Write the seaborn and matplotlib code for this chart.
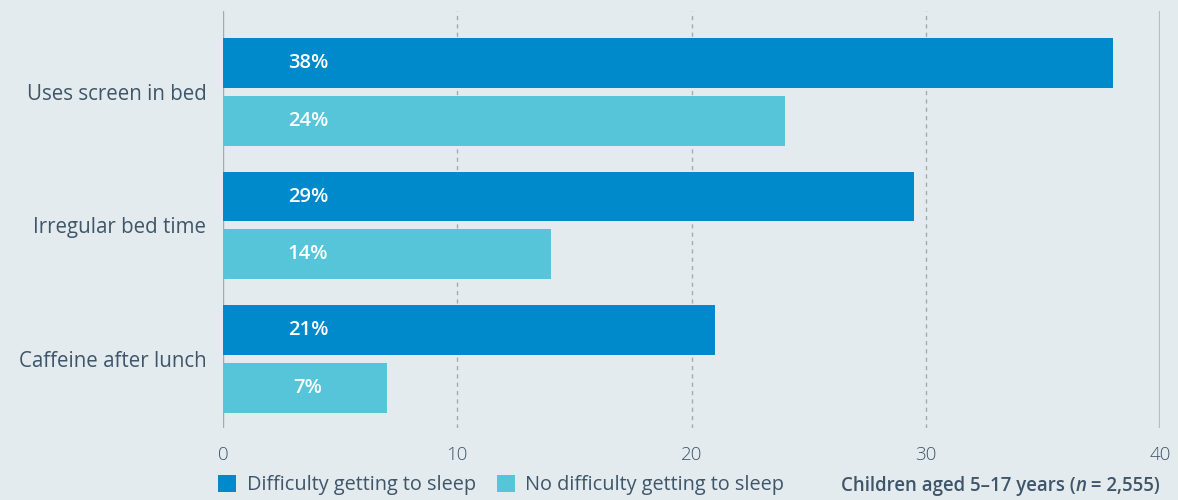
import matplotlib
matplotlib.use("Agg")
import matplotlib.pyplot as plt
import seaborn as sns
import pandas as pd
from matplotlib.patches import Patch

categories = ["Uses screen in bed", "Irregular bed time", "Caffeine after lunch"]
series_names = ["Difficulty getting to sleep", "No difficulty getting to sleep"]
difficulty = [38, 29.5, 21]
no_difficulty = [24, 14, 7]
difficulty_labels = ["38%", "29%", "21%"]
no_difficulty_labels = ["24%", "14%", "7%"]
x_ticks = [0, 10, 20, 30, 40]
footnote_parts = ["Children aged 5\u201317 years (", "n", " = 2,555)"]

BG = "#e3ebee"
DARK = "#0089cb"
LIGHT = "#56c5da"
TXT = "#3f5569"
GRID = "#a3abb2"

sns.set_theme(style="white")
plt.rcParams["font.family"] = ["Open Sans", "DejaVu Sans"]

df = pd.DataFrame({
    "category": categories * 2,
    "series": [series_names[0]] * 3 + [series_names[1]] * 3,
    "value": difficulty + no_difficulty,
})

fig = plt.figure(figsize=(11.78, 5.0), dpi=100, facecolor=BG)
ax = fig.add_axes([223 / 1178, 72 / 500, (1160 - 223) / 1178, (428 - 11) / 500])
ax.set_facecolor(BG)

sns.barplot(data=df, y="category", x="value", hue="series", order=categories,
            hue_order=series_names, palette=[DARK, LIGHT], orient="h",
            width=0.865, gap=0.137, saturation=1, ax=ax, legend=False,
            errorbar=None, linewidth=0)

ax.set_xlim(0, 40)
ax.set_ylim(2.515, -0.604)
ax.set_xticks(x_ticks)
ax.set_xticklabels([str(t) for t in x_ticks], fontsize=13.5, color=TXT, fontweight="light")
ax.tick_params(axis="x", length=0, pad=13)
ax.tick_params(axis="y", length=0, pad=12)
for lbl in ax.get_yticklabels():
    lbl.set_fontsize(14.8)
    lbl.set_color(TXT)
    lbl.set_va("center_baseline")
ax.set_xlabel("")
ax.set_ylabel("")
for s in ax.spines.values():
    s.set_visible(False)

for t in x_ticks:
    if t in (0, 40):
        ax.axvline(t, color="#b5bec5" if t == 40 else GRID, lw=1.6 if t == 40 else 1.0, zorder=0)
    else:
        ax.axvline(t, color=GRID, lw=1.0, ls=(0, (3, 3)), zorder=0)

label_sets = [difficulty_labels, no_difficulty_labels]
for cont, labels in zip(ax.containers, label_sets):
    for patch, lab in zip(cont.patches, labels):
        yc = patch.get_y() + patch.get_height() / 2
        ax.text(3.63, yc, lab, ha="center", va="center", color="white",
                fontsize=14.5, fontweight="semibold")

handles = [Patch(facecolor=DARK, edgecolor="none"), Patch(facecolor=LIGHT, edgecolor="none")]
leg = fig.legend(handles, series_names, loc="lower left", bbox_to_anchor=(200 / 1178, -0.026),
                 ncol=2, frameon=False, handlelength=0.9, handleheight=0.9,
                 handletextpad=0.55, columnspacing=1.05, fontsize=14.3)
for t in leg.get_texts():
    t.set_color(TXT)

# footnote right-aligned with italic n
fig.canvas.draw()
renderer = fig.canvas.get_renderer()
x_right = 1160 / 1178
y_fn = 9 / 500
fs = 13.4
t3 = fig.text(x_right, y_fn, footnote_parts[2], ha="right", va="baseline",
              fontsize=fs, fontweight="semibold", color=TXT)
bb3 = t3.get_window_extent(renderer)
t2 = fig.text(bb3.x0 / fig.bbox.width, y_fn, footnote_parts[1], ha="right", va="baseline",
              fontsize=fs, fontweight="semibold", fontstyle="italic", color=TXT)
bb2 = t2.get_window_extent(renderer)
fig.text(bb2.x0 / fig.bbox.width, y_fn, footnote_parts[0], ha="right", va="baseline",
         fontsize=fs, fontweight="semibold", color=TXT)

fig.savefig("out.png", dpi=100, facecolor=BG)
